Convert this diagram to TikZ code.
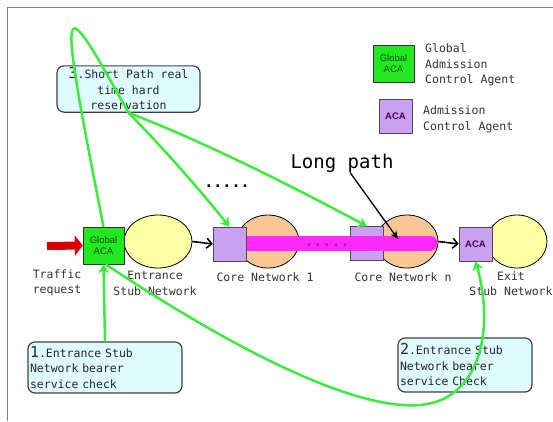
\documentclass[tikz,border=0pt]{standalone}
\usepackage{fontspec}
\setmonofont{DejaVu Sans Mono}
\setsansfont{Liberation Sans}
\usetikzlibrary{arrows.meta,positioning,shapes.geometric}
\definecolor{acagreen}{RGB}{34,232,34}
\definecolor{acapurple}{RGB}{202,160,242}
\definecolor{stubyellow}{RGB}{255,255,165}
\definecolor{corepeach}{RGB}{250,198,150}
\definecolor{pathpink}{RGB}{255,40,255}
\definecolor{linegreen}{RGB}{60,235,60}
\definecolor{notecyan}{RGB}{222,252,255}
\newcommand\netfont{\ttfamily\fontsize{11.5}{15.5}\selectfont}
\newcommand\bignum[1]{{\fontsize{15}{15}\selectfont #1}}

\begin{document}
\begin{tikzpicture}[x=1pt,y=-1pt,
  gacabox/.style={draw=black!80,fill=acagreen,minimum width=41pt,minimum height=37pt,inner sep=0pt,align=center,font=\sffamily\fontsize{9.5}{11}\selectfont,text=green!30!black},
  acabox/.style={draw=black!70,fill=acapurple,minimum width=33pt,minimum height=34pt,inner sep=0pt,font=\sffamily\bfseries\fontsize{9.5}{11}\selectfont,text=violet!60!black},
  stubnet/.style={ellipse,draw=black,thick,fill=stubyellow,inner sep=0pt},
  corenet/.style={ellipse,draw=black,thick,fill=corepeach,minimum width=62pt,minimum height=53pt,inner sep=0pt},
  notebox/.style={draw=black!75,line width=1.2pt,rounded corners=7pt,fill=notecyan,inner sep=2pt,font=\netfont,text=black!85},
  netlabel/.style={font=\netfont,align=center,inner sep=0pt,text=black!80},
  dotrow/.style={font=\ttfamily\bfseries\fontsize{15}{15}\selectfont,inner sep=0pt,anchor=base},
  greenline/.style={draw=linegreen,line width=2.5pt},
  greenarrow/.style={greenline,-{Stealth[length=9pt,width=11pt]}},
  blackarrow/.style={draw=black,line width=1.6pt,-{Straight Barb[length=5pt,width=10pt]}}]
\useasboundingbox (0,0) rectangle (553,421);
\draw[gray,line width=0.8pt] (7,421) -- (7,7) -- (553,7);

% legend
\node[gacabox] (leg_gaca) at (393.5,63.5) {Global\\ACA};
\node[netlabel,align=left,anchor=west] (leg_gaca_txt) at (425,65) {Global\\Admission\\Control Agent};
\node[acabox] (leg_aca) at (395.5,116.5) {ACA};
\node[netlabel,align=left,anchor=west] (leg_aca_txt) at (423,119.5) {Admission\\Control Agent};

% networks
\node[stubnet,minimum width=68pt,minimum height=53pt] (entr) at (158,241.5) {};
\node[corenet] (core1) at (268,241.5) {};
\node[corenet] (coren) at (407,241.5) {};
\node[stubnet,minimum width=60pt,minimum height=53pt] (exit) at (517,241.5) {};
\node[acabox] (coren_aca) at (367,243.5) {};
\coordinate (barstart) at (229.5,243);
\coordinate (barend) at (430,243);
\draw[pathpink,line width=15pt,line cap=round] (barstart) -- (barend);
\node[dotrow,text=pathpink!70!black] (pinkdots) at (327,246) {.....};
\node[acabox] (core1_aca) at (229.5,244) {};
\node[acabox] (exit_aca) at (475.5,244) {ACA};
\node[gacabox] (gaca) at (103.5,245.5) {Global\\ACA};
\coordinate (req) at (47,246);
\draw[red!85!black,line width=8pt,-{Triangle[length=8pt,width=20pt]}] (req) -- (gaca.west);
\draw[blackarrow] (entr.east) -- (core1_aca.west);
\draw[blackarrow] (coren.east) -- (exit_aca.west);

% labels
\node[netlabel] (req_lbl) at (57,283) {Traffic\\request};
\node[netlabel] (entr_lbl) at (155,283.5) {Entrance\\Stub Network};
\node[netlabel] (core1_lbl) at (265,277) {Core Network 1};
\node[netlabel] (coren_lbl) at (403,277) {Core Network n};
\node[netlabel] (exit_lbl) at (511,283.5) {Exit\\Stub Network};
\node[dotrow] (blackdots) at (227,187) {.....};
\node[netlabel,font=\ttfamily\fontsize{19}{19}\selectfont,text=black] (longpath) at (342,163) {Long path};
\coordinate (longtip) at (398,239);
\draw[black,line width=1.3pt,-{Stealth[length=8pt,width=7pt]}] ([xshift=8pt]longpath.south) -- (longtip);

% notes
\node[notebox,minimum width=143pt,minimum height=46pt,align=center] (note3) at (128.5,89) {\bignum{3}.Short Path real\\time hard\\reservation};
\node[notebox,text width=150pt,minimum height=51pt,align=left] (note1) at (105,367.5) {\bignum{1}.Entrance Stub\\Network bearer\\service check};
\node[notebox,text width=130pt,minimum height=54pt,align=left] (note2) at (465,365) {\bignum{2}.Entrance Stub\\Network bearer\\service Check};

% green flows
\draw[greenline] (gaca.north) .. controls (55,-20) and (60,-10) .. (note3.south);
\draw[greenarrow] (note3.south) .. controls (165,150) and (200,190) .. (core1_aca.north);
\draw[greenarrow] (note3.south) .. controls (200,140) and (290,185) .. (coren_aca.north);
\draw[greenarrow] (note1.north) -- (gaca.south);
\draw[greenarrow] ([xshift=2pt]gaca.south) .. controls (250,360) and (360,410) .. (420,405) .. controls (480,400) and (495,330) .. (exit_aca.south);
\end{tikzpicture}
\end{document}
